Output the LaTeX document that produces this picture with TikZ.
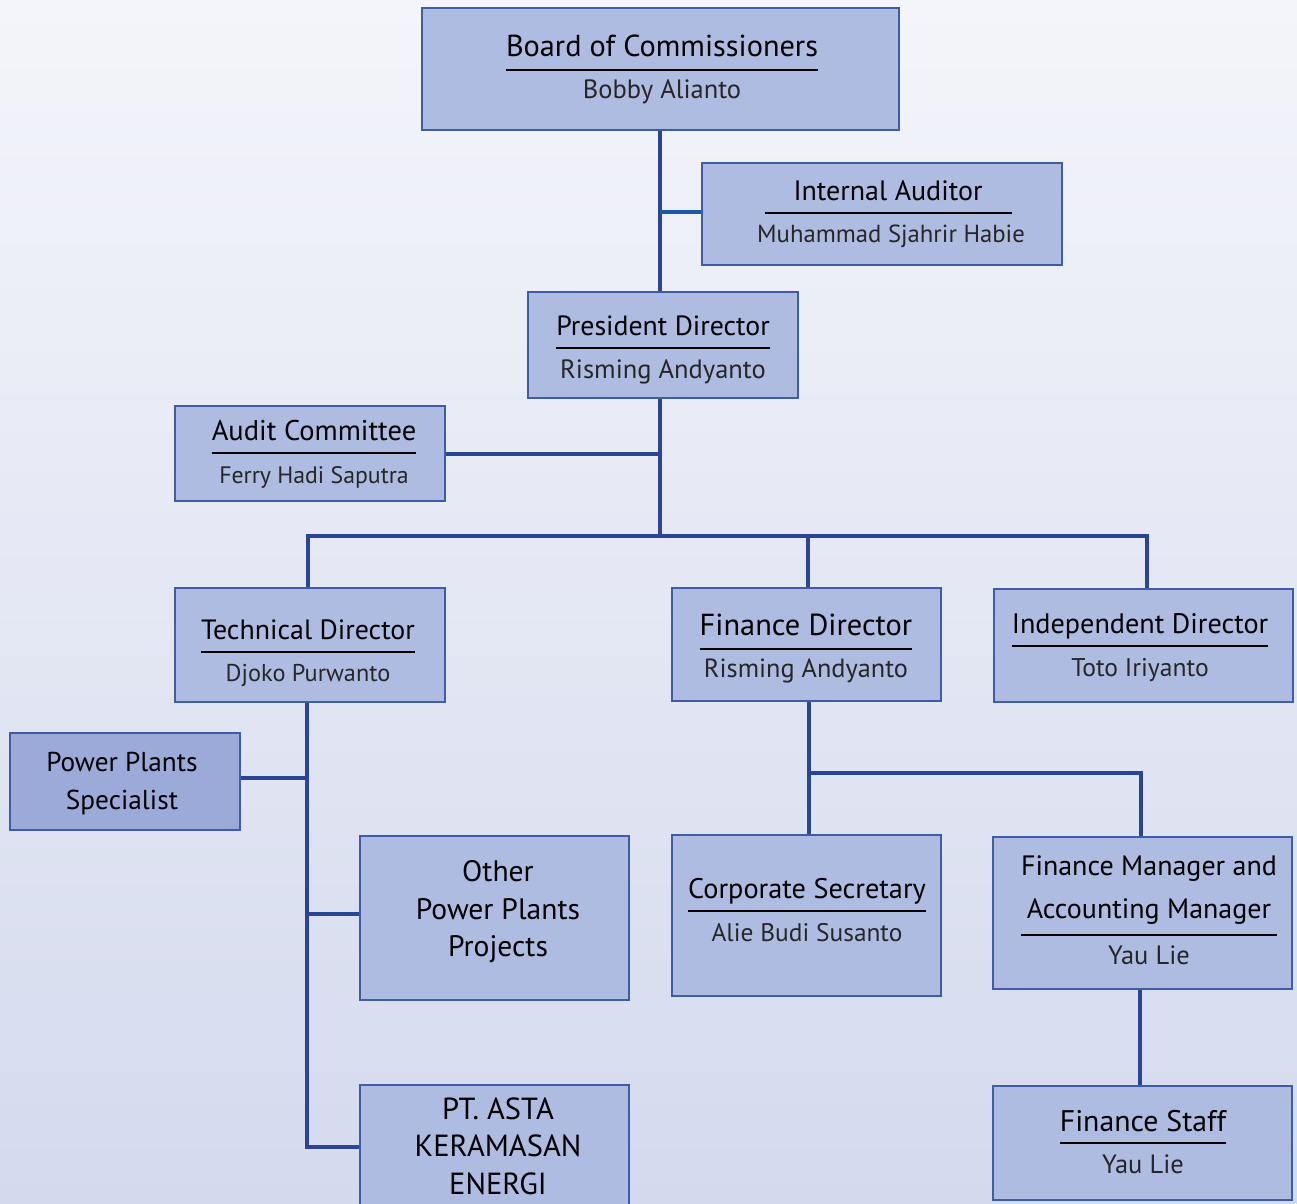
\documentclass[tikz,border=0pt]{standalone}
\usepackage{fontspec}
\setmainfont{PT Sans}
\usetikzlibrary{fit}
\definecolor{bgtop}{HTML}{F4F5FA}
\definecolor{bgbot}{HTML}{D4DAEE}
\definecolor{boxfill}{HTML}{AFBCE2}
\definecolor{boxfilldark}{HTML}{9BAAD8}
\definecolor{boxborder}{HTML}{3F5CAA}
\definecolor{connblue}{HTML}{2A4597}
\definecolor{connblue2}{HTML}{1E58A8}
\newcommand{\fsz}[1]{\fontsize{#1}{#1}\selectfont}
\tikzset{
  orgbox/.style={draw=boxborder, line width=2.5pt, fill=boxfill, rectangle, inner sep=0pt},
  ttl/.style={inner sep=0pt, anchor=base, font=\fsz{28}},
  person/.style={inner sep=0pt, anchor=base, text=black!85, font=\fsz{26.5}},
  multi/.style={inner sep=0pt, align=center},
  uline/.style={draw=black, line width=2pt},
  conn/.style={draw=connblue, line width=4pt},
  conn2/.style={draw=connblue2, line width=4pt}
}
\begin{document}
\begin{tikzpicture}[x=1pt,y=-1pt]
\useasboundingbox (0,0) rectangle (1297,1203);
\clip (0,0) rectangle (1297,1203);
\shade[top color=bgtop, bottom color=bgbot] (0,0) rectangle (1297,1203);

% junction coordinates
\coordinate (ja) at (660,212);
\coordinate (jb) at (660,536);
\coordinate (jc) at (660,454);
\coordinate (jt) at (308,536);
\coordinate (jf) at (808,536);
\coordinate (ji) at (1147,536);
\coordinate (jtb) at (307,1147);
\coordinate (jp) at (307,778);
\coordinate (jo) at (307,914);
\coordinate (jfd) at (809,773);
\coordinate (jfm) at (1141,773);
\coordinate (jfs) at (1140,1000);

% boxes
\node[orgbox, fit={(422,8) (899,130)}] (board) {};
\node[orgbox, fit={(702,163) (1062,265)}] (ia) {};
\node[orgbox, fit={(528,292) (798,398)}] (pres) {};
\node[orgbox, fit={(175,406) (445,501)}] (audit) {};
\node[orgbox, fit={(175,588) (445,702)}] (tech) {};
\node[orgbox, fit={(672,588) (941,701)}] (fin) {};
\node[orgbox, fit={(994,589) (1293,702)}] (ind) {};
\node[orgbox, fill=boxfilldark, fit={(10,733) (240,830)}] (pps) {};
\node[orgbox, fit={(360,836) (629,1000)}] (oth) {};
\node[orgbox, fit={(672,835) (941,996)}] (corp) {};
\node[orgbox, fit={(993,837) (1292,989)}] (fm) {};
\node[orgbox, fit={(360,1085) (629,1230)}] (asta) {};
\node[orgbox, fit={(993,1086) (1292,1200)}] (fs) {};

% connectors
\draw[conn] (board.south -| ja) -- (pres.north -| ja);
\draw[conn2] (ja) -- (ia.west |- ja);
\draw[conn] (pres.south -| jb) -- (jb);
\draw[conn] (audit.east |- jc) -- (jc);
\draw[conn] (tech.north -| jt) -- (jt) -- (ji) -- (ind.north -| ji);
\draw[conn] (jf) -- (fin.north -| jf);
\draw[conn] (tech.south -| jtb) -- (jtb) -- (asta.west |- jtb);
\draw[conn] (pps.east |- jp) -- (jp);
\draw[conn] (jo) -- (oth.west |- jo);
\draw[conn] (fin.south -| jfd) -- (corp.north -| jfd);
\draw[conn] (jfd) -- (jfm) -- (fm.north -| jfm);
\draw[conn] (fm.south -| jfs) -- (fs.north -| jfs);

% texts
\node[ttl, font=\fsz{30.3}] (boardt) at (662,56) {Board of Commissioners};
\draw[uline] (boardt.west |- 0,70) -- (boardt.east |- 0,70);
\node[person] (boardn) at (662,98) {Bobby Alianto};

\node[ttl] (iat) at (888,200) {Internal Auditor};
\draw[uline] (765,213) -- (1012,213);
\node[person, font=\fsz{24.7}] (ian) at (891,242) {Muhammad Sjahrir Habie};

\node[ttl, font=\fsz{27.8}] (prest) at (663,335) {President Director};
\draw[uline] (prest.west |- 0,348) -- (prest.east |- 0,348);
\node[person] (presn) at (663,378) {Risming Andyanto};

\node[ttl, font=\fsz{28.5}] (auditt) at (314,440) {Audit Committee};
\draw[uline] (auditt.west |- 0,453) -- (auditt.east |- 0,453);
\node[person, font=\fsz{23.8}] (auditn) at (314,483) {Ferry Hadi Saputra};

\node[ttl, font=\fsz{27.9}] (techt) at (308,639) {Technical Director};
\draw[uline] (techt.west |- 0,652) -- (techt.east |- 0,652);
\node[person, font=\fsz{24.3}] (techn) at (308,681) {Djoko Purwanto};

\node[ttl, font=\fsz{30.4}] (fint) at (806,635) {Finance Director};
\draw[uline] (fint.west |- 0,649) -- (fint.east |- 0,649);
\node[person, font=\fsz{26.3}] (finn) at (806,677) {Risming Andyanto};

\node[ttl, font=\fsz{28.2}] (indt) at (1140,633) {Independent Director};
\draw[uline] (indt.west |- 0,646) -- (indt.east |- 0,646);
\node[person, font=\fsz{25.6}] (indn) at (1140,676) {Toto Iriyanto};

\node[multi, font=\fontsize{27.3}{38}\selectfont] (ppst) at (122,784) {Power Plants\\Specialist};
\node[multi, font=\fontsize{29.6}{37.5}\selectfont] (otht) at (498,912) {Other\\Power Plants\\Projects};
\node[multi, font=\fontsize{30.5}{37.5}\selectfont] (astat) at (498,1146) {PT. ASTA\\KERAMASAN\\ENERGI};

\node[ttl, font=\fsz{28.3}] (corpt) at (807,898) {Corporate Secretary};
\draw[uline] (corpt.west |- 0,911) -- (corpt.east |- 0,911);
\node[person, font=\fsz{25.4}] (corpn) at (807,941) {Alie Budi Susanto};

\node[ttl, anchor=center, align=center, font=\fontsize{28}{43}\selectfont] (fmt) at (1149,890) {Finance Manager and\\Accounting Manager};
\draw[uline] (fmt.west |- 0,935) -- (fmt.east |- 0,935);
\node[person] (fmn) at (1149,964) {Yau Lie};

\node[ttl, font=\fsz{29.8}] (fst) at (1143,1131) {Finance Staff};
\draw[uline] (fst.west |- 0,1143) -- (fst.east |- 0,1143);
\node[person] (fsn) at (1143,1173) {Yau Lie};
\end{tikzpicture}
\end{document}
